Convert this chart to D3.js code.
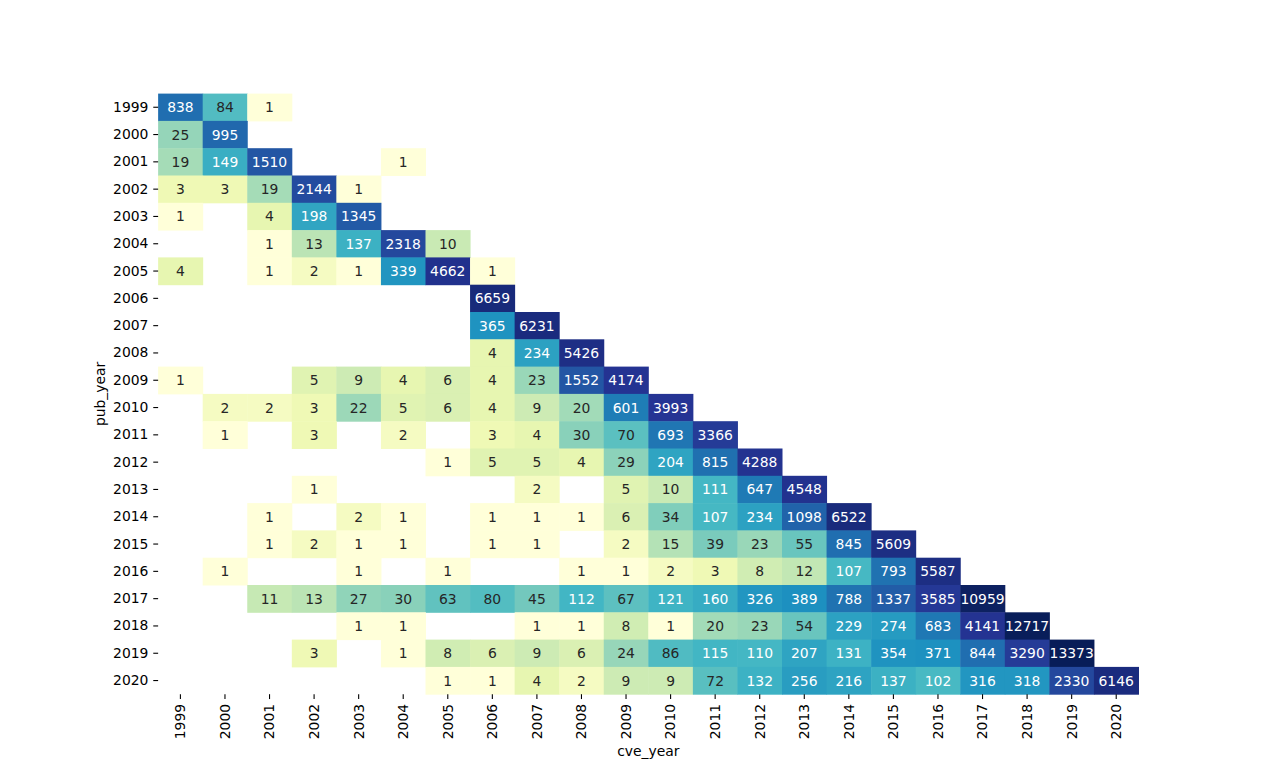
<!DOCTYPE html>
<html><head><meta charset="utf-8">
<script src="https://cdn.jsdelivr.net/npm/d3@7"></script>
<style>body{margin:0;background:#fff}svg text{font-family:"DejaVu Sans",sans-serif}</style>
</head><body><svg id="c" width="1265" height="780"></svg>
<script>
const N = null;
const cveYears = ["1999","2000","2001","2002","2003","2004","2005","2006","2007","2008","2009","2010","2011","2012","2013","2014","2015","2016","2017","2018","2019","2020"];
const pubYears = cveYears.slice();
const counts = [
 [838,84,1,N,N,N,N,N,N,N,N,N,N,N,N,N,N,N,N,N,N,N],
 [25,995,N,N,N,N,N,N,N,N,N,N,N,N,N,N,N,N,N,N,N,N],
 [19,149,1510,N,N,1,N,N,N,N,N,N,N,N,N,N,N,N,N,N,N,N],
 [3,3,19,2144,1,N,N,N,N,N,N,N,N,N,N,N,N,N,N,N,N,N],
 [1,N,4,198,1345,N,N,N,N,N,N,N,N,N,N,N,N,N,N,N,N,N],
 [N,N,1,13,137,2318,10,N,N,N,N,N,N,N,N,N,N,N,N,N,N,N],
 [4,N,1,2,1,339,4662,1,N,N,N,N,N,N,N,N,N,N,N,N,N,N],
 [N,N,N,N,N,N,N,6659,N,N,N,N,N,N,N,N,N,N,N,N,N,N],
 [N,N,N,N,N,N,N,365,6231,N,N,N,N,N,N,N,N,N,N,N,N,N],
 [N,N,N,N,N,N,N,4,234,5426,N,N,N,N,N,N,N,N,N,N,N,N],
 [1,N,N,5,9,4,6,4,23,1552,4174,N,N,N,N,N,N,N,N,N,N,N],
 [N,2,2,3,22,5,6,4,9,20,601,3993,N,N,N,N,N,N,N,N,N,N],
 [N,1,N,3,N,2,N,3,4,30,70,693,3366,N,N,N,N,N,N,N,N,N],
 [N,N,N,N,N,N,1,5,5,4,29,204,815,4288,N,N,N,N,N,N,N,N],
 [N,N,N,1,N,N,N,N,2,N,5,10,111,647,4548,N,N,N,N,N,N,N],
 [N,N,1,N,2,1,N,1,1,1,6,34,107,234,1098,6522,N,N,N,N,N,N],
 [N,N,1,2,1,1,N,1,1,N,2,15,39,23,55,845,5609,N,N,N,N,N],
 [N,1,N,N,1,N,1,N,N,1,1,2,3,8,12,107,793,5587,N,N,N,N],
 [N,N,11,13,27,30,63,80,45,112,67,121,160,326,389,788,1337,3585,10959,N,N,N],
 [N,N,N,N,1,1,N,N,1,1,8,1,20,23,54,229,274,683,4141,12717,N,N],
 [N,N,N,3,N,1,8,6,9,6,24,86,115,110,207,131,354,371,844,3290,13373,N],
 [N,N,N,N,N,N,1,1,4,2,9,9,72,132,256,216,137,102,316,318,2330,6146]
];
const palette = ["#ffffd9","#edf8b1","#c7e9b4","#7fcdbb","#41b6c4","#1d91c0","#225ea8","#253494","#081d58"];

(function(){
const W=1265,H=780;
const mL=0.125*W, mR=0.9*W, mT=(1-0.88)*H, mB=(1-0.11)*H;
const svg=d3.select("#c");
const x=d3.scaleBand().domain(cveYears).range([mL,mR]);
const y=d3.scaleBand().domain(pubYears).range([mT,mB]);

const cells=[];
counts.forEach((row,i)=>row.forEach((v,j)=>{ if(v!==null) cells.push({p:pubYears[i],c:cveYears[j],v}); }));
const vals=cells.map(d=>d.v);
const norm=d3.scaleLog().domain([d3.min(vals),d3.max(vals)]).range([0,1]).clamp(true);
const segs=d3.scaleLinear().domain(d3.range(palette.length).map(i=>i/(palette.length-1))).range(palette).interpolate(d3.interpolateRgb);
const lut=d3.range(256).map(i=>segs(i/255));
function color(v){let k=Math.floor(norm(v)*256);if(k>255)k=255;if(k<0)k=0;return lut[k];}
function lum(c){const r=d3.rgb(c);const f=u=>{u/=255;return u<=0.03928?u/12.92:Math.pow((u+0.055)/1.055,2.4)};return 0.2126*f(r.r)+0.7152*f(r.g)+0.0722*f(r.b);}

svg.append("g").selectAll("rect").data(cells).join("rect")
 .attr("x",d=>x(d.c)).attr("y",d=>y(d.p))
 .attr("width",x.bandwidth()+0.5).attr("height",y.bandwidth()+0.5)
 .attr("fill",d=>color(d.v));

svg.append("g").selectAll("text").data(cells).join("text")
 .attr("x",d=>x(d.c)+x.bandwidth()/2).attr("y",d=>y(d.p)+y.bandwidth()/2)
 .attr("text-anchor","middle").attr("dominant-baseline","central")
 .attr("font-size","13.9px")
 .attr("fill",d=>lum(color(d.v))>0.408?"#262626":"#ffffff")
 .text(d=>d.v);

const xa=svg.append("g").attr("transform",`translate(0,${mB})`)
 .call(d3.axisBottom(x).tickSize(4.86).tickPadding(4.86));
xa.select(".domain").remove();
xa.selectAll("line").attr("stroke","#000").attr("stroke-width",1.1);
xa.selectAll("text").attr("font-size","13.9px").attr("fill","#000")
 .attr("transform","rotate(-90)").attr("text-anchor","end")
 .attr("dy","0.35em").attr("x",-9.7).attr("y",0);

const ya=svg.append("g").attr("transform",`translate(${mL},0)`)
 .call(d3.axisLeft(y).tickSize(4.86).tickPadding(4.86));
ya.select(".domain").remove();
ya.selectAll("line").attr("stroke","#000").attr("stroke-width",1.1);
ya.selectAll("text").attr("font-size","13.9px").attr("fill","#000");

svg.append("text").attr("x",(mL+mR)/2).attr("y",756).attr("text-anchor","middle")
 .attr("font-size","13.9px").attr("fill","#000").text("cve_year");
svg.append("text").attr("transform",`translate(105,${(mT+mB)/2}) rotate(-90)`).attr("text-anchor","middle")
 .attr("font-size","13.9px").attr("fill","#000").text("pub_year");
})();
</script></body></html>
